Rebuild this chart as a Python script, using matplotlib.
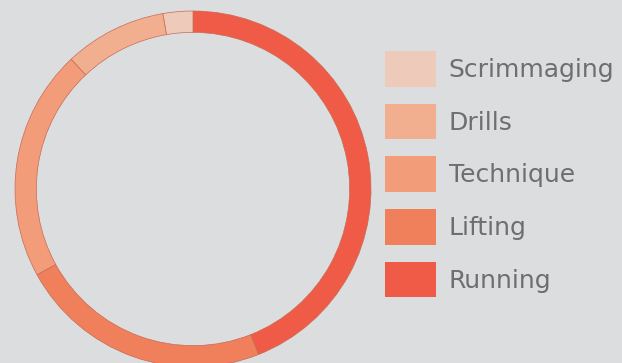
import matplotlib.pyplot as plt
from matplotlib.patches import Patch

# share of practice time, clockwise from 12 o'clock
labels = ['Running', 'Lifting', 'Technique', 'Drills', 'Scrimmaging']
values = [44, 23, 21, 9.3, 2.7]
colors = ['#EF5B46', '#F07F5C', '#F29C7A', '#F2AF90', '#EECABA']

bg = '#DCDDDF'
fig = plt.figure(figsize=(6.22, 3.63), dpi=100, facecolor=bg)

# ring axes: centre ~(193,189) px, outer radius ~178 px
ax = fig.add_axes([15 / 622, (363 - 367) / 363, 356 / 622, 356 / 363])
ax.set_facecolor(bg)
ax.pie(values, colors=colors, startangle=90, counterclock=False, radius=1,
       wedgeprops=dict(width=0.12, edgecolor='#C86A55', linewidth=0.5))
ax.set_xlim(-1, 1)
ax.set_ylim(-1, 1)
ax.set_aspect('equal')
ax.axis('off')

# legend, top to bottom: Scrimmaging ... Running
handles = [Patch(facecolor=c, edgecolor='none') for c in colors][::-1]
leg = fig.legend(handles, labels[::-1], loc='upper left',
                 bbox_to_anchor=(385 / 622, 1 - 51 / 363),
                 frameon=False, fontsize=18, handlelength=2.05,
                 handleheight=1.82, handletextpad=0.5, labelspacing=0.68,
                 borderpad=0, borderaxespad=0)
for t in leg.get_texts():
    t.set_color('#6E6E70')

fig.savefig('out.png', dpi=100, facecolor=bg)
